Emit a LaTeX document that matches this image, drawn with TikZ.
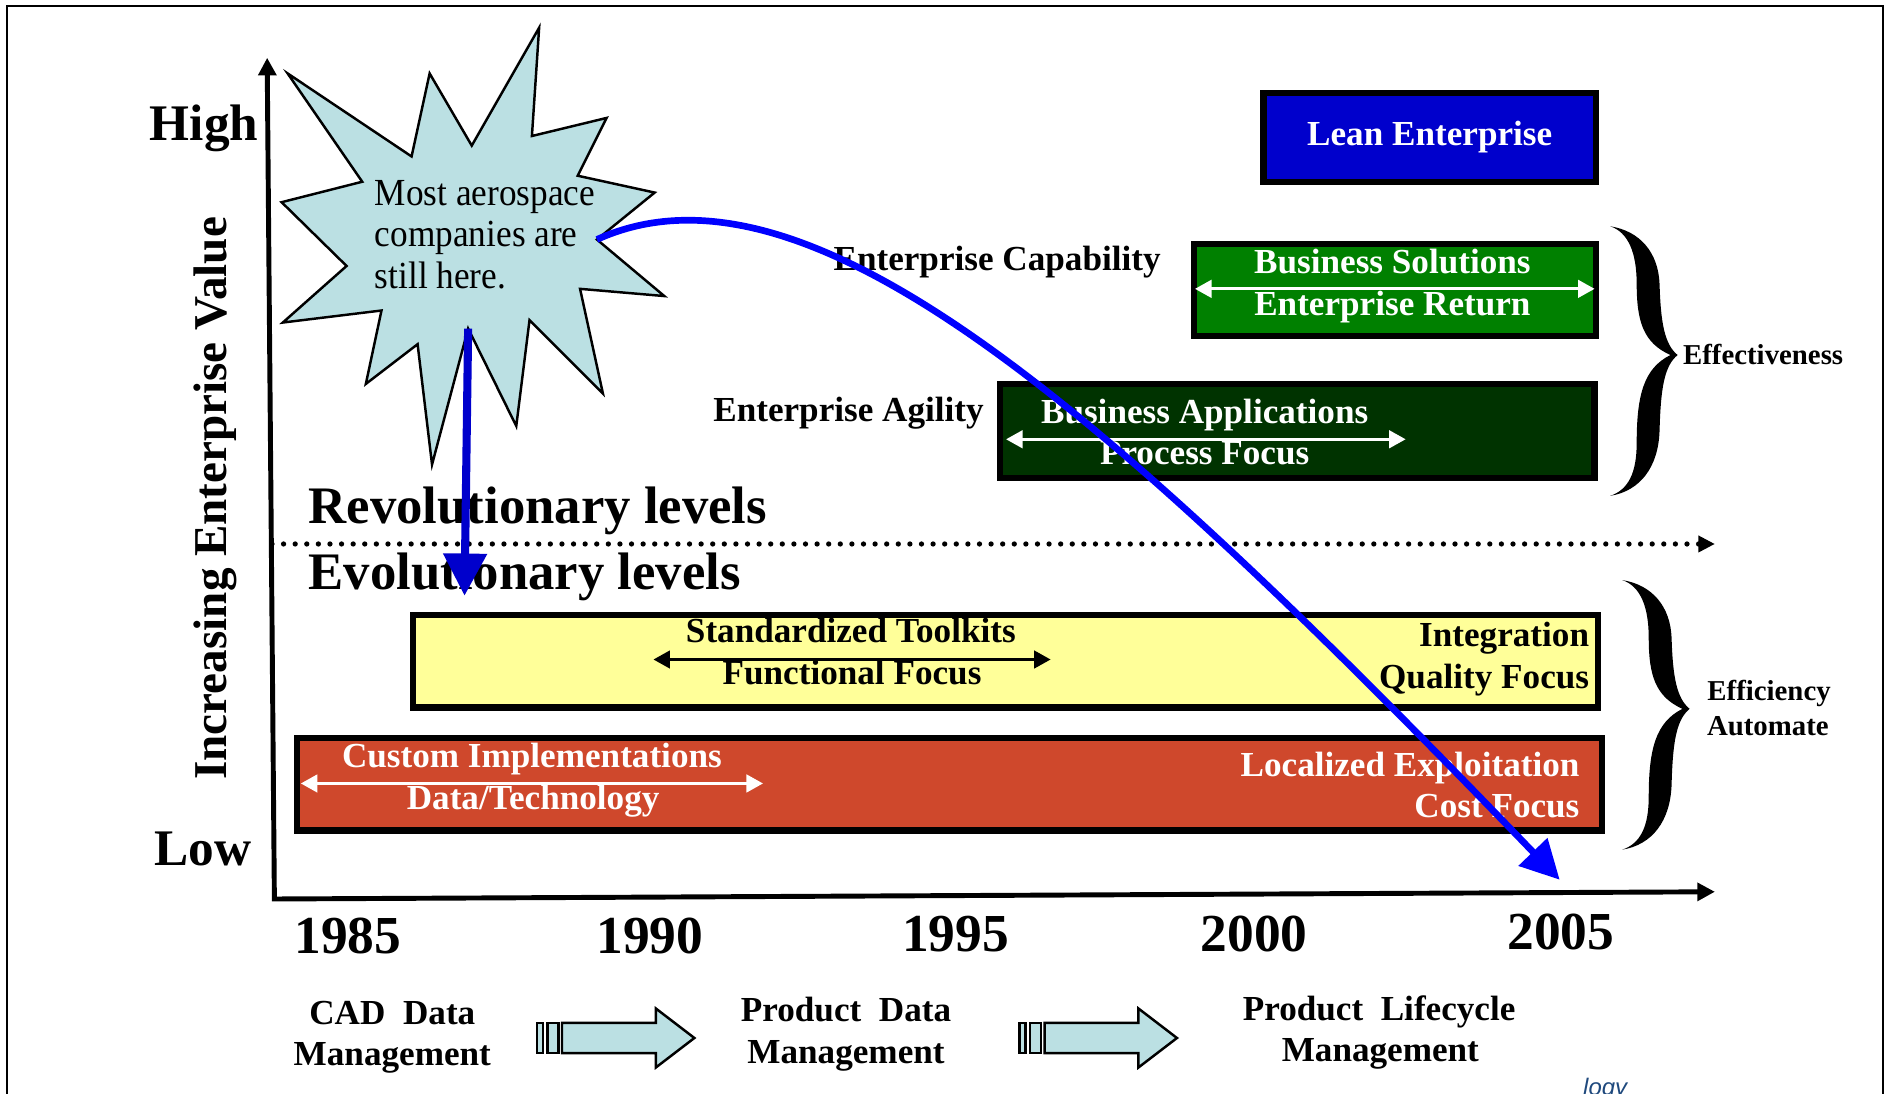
\documentclass[tikz,border=0pt]{standalone}
\usepackage{fontspec}
\setmainfont{Liberation Serif}
\newfontfamily\logofont{Liberation Sans}
\newfontfamily\burstfont[FakeStretch=0.92]{Liberation Serif}
\usepackage{xcolor}
\usetikzlibrary{arrows.meta}
\definecolor{leanblue}{RGB}{0,0,204}
\definecolor{solgreen}{RGB}{0,128,0}
\definecolor{appgreen}{RGB}{0,51,0}
\definecolor{toolyellow}{RGB}{255,255,153}
\definecolor{customred}{RGB}{207,72,44}
\definecolor{burstblue}{RGB}{187,224,227}
\definecolor{dropblue}{RGB}{0,0,204}
\definecolor{trendblue}{RGB}{0,0,255}
\definecolor{logoblue}{RGB}{31,73,125}

\begin{document}
\begin{tikzpicture}[x=0.12034mm, y=-0.12034mm,
    bigtext/.style={font=\fontsize{14.6}{17}\selectfont\bfseries, inner sep=0pt},
    leveltext/.style={font=\fontsize{15}{17}\selectfont\bfseries, inner sep=0pt, anchor=base west},
    yeartext/.style={font=\fontsize{15.2}{17}\selectfont\bfseries, inner sep=0pt, anchor=base},
    midtext/.style={font=\fontsize{10}{12}\selectfont\bfseries, inner sep=0pt},
    smalltext/.style={font=\fontsize{8.2}{10}\selectfont\bfseries, inner sep=0pt},
    bursttext/.style={font=\burstfont\fontsize{10.9}{12}\selectfont, inner sep=0pt, anchor=base west},
    levelbox/.style={draw=black, line width=1.8pt},
    spanarrow/.style={{Triangle[length=4.7pt,width=5pt]}-{Triangle[length=4.7pt,width=5pt]}, line width=0.8pt},
    axis/.style={{Triangle[length=5pt,width=5pt]}-{Triangle[length=5pt,width=5pt]}, line width=1.4pt},
    blockarrow/.style={fill=burstblue, draw=black, line width=0.7pt}]

    \useasboundingbox (0,0) rectangle (1568,909);

    % Cadre
    \draw[line width=0.6pt] (6,915) -- (6,5) -- (1565,5) -- (1565,915);

    % Axes
    \coordinate (yTop) at (222,48);
    \coordinate (origin) at (228,747);
    \coordinate (xEnd) at (1425,741);
    \draw[axis] (yTop) -- (origin) -- (xEnd);
    \node[bigtext, anchor=base west] (high) at (124,117) {High};
    \node[bigtext, anchor=base west] (low) at (128,719) {Low};
    \node[font=\fontsize{13.4}{16}\selectfont\bfseries, inner sep=0pt, rotate=90, anchor=base] (valueLabel) at (188,414) {Increasing Enterprise Value};

    % Annees
    \foreach \yr/\px/\py in {1985/289/792, 1990/540/792, 1995/794/791, 2000/1042/791, 2005/1297/789} {
        \node[yeartext] (y\yr) at (\px,\py) {\yr};
    }

    % Separation revolution / evolution
    \coordinate (sepStart) at (226,452);
    \coordinate (sepEnd) at (1425,452);
    \draw[line width=1.5pt, dash pattern=on 0pt off 3.3pt, line cap=round, -{Triangle[length=4.7pt,width=4.5pt]}] (sepStart) -- (sepEnd);
    \node[leveltext] (revLevels) at (256,435) {Revolutionary levels};
    \node[leveltext] (evoLevels) at (256,490) {Evolutionary levels};

    % Niveaux revolutionnaires
    \filldraw[levelbox, fill=leanblue] (1050,77) rectangle (1326,151);
    \node[midtext, text=white, anchor=base] (lean) at (1188,121) {Lean Enterprise};

    \filldraw[levelbox, fill=solgreen] (992,203) rectangle (1326,279);
    \node[midtext, text=white, anchor=base] (solutions) at (1157,227) {Business Solutions};
    \node[midtext, text=white, anchor=base] (eReturn) at (1157,262) {Enterprise Return};
    \coordinate (solLeft) at (993,240);
    \coordinate (solRight) at (1325,240);
    \draw[spanarrow, white] (solLeft) -- (solRight);
    \node[midtext, anchor=base east] (capability) at (965,225) {Enterprise Capability};

    \filldraw[levelbox, fill=appgreen] (831,319) rectangle (1325,397);
    \node[midtext, text=white, anchor=base] (applications) at (1001,352) {Business Applications};
    \node[midtext, text=white, anchor=base] (processFocus) at (1001,386) {Process Focus};
    \coordinate (appLeft) at (836,365);
    \coordinate (appRight) at (1168,365);
    \draw[spanarrow, white] (appLeft) -- (appRight);
    \node[midtext, anchor=base east] (agility) at (818,350) {Enterprise Agility};

    % Niveaux evolutionnaires
    \filldraw[levelbox, fill=toolyellow] (343,511) rectangle (1328,588);
    \node[midtext, anchor=base] (toolkits) at (707,534) {Standardized Toolkits};
    \node[midtext, anchor=base] (functional) at (708,569) {Functional Focus};
    \coordinate (toolLeft) at (543,548);
    \coordinate (toolRight) at (873,548);
    \draw[spanarrow, black] (toolLeft) -- (toolRight);
    \node[midtext, anchor=base east] (integration) at (1321,537) {Integration};
    \node[midtext, anchor=base east] (quality) at (1321,572) {Quality Focus};

    \filldraw[levelbox, fill=customred] (247,613) rectangle (1331,690);
    \node[midtext, text=white, anchor=base] (custom) at (442,638) {Custom Implementations};
    \node[midtext, text=white, anchor=base] (dataTech) at (443,673) {Data/Technology};
    \coordinate (customLeft) at (250,651);
    \coordinate (customRight) at (634,651);
    \draw[spanarrow, white] (customLeft) -- (customRight);
    \node[midtext, text=white, anchor=base east] (localized) at (1313,645) {Localized Exploitation};
    \node[midtext, text=white, anchor=base east] (costFocus) at (1313,679) {Cost Focus};

    % Accolades
    \foreach \bx/\by in {1338/188, 1348/482} {
        \fill[shift={(\bx,\by)}] (0,0) .. controls (25,4) and (40,22) .. (41,48)
            .. controls (42,80) and (45,98) .. (56,107)
            .. controls (45,116) and (42,134) .. (41,170)
            .. controls (40,200) and (25,220) .. (0,224)
            .. controls (15,219) and (22,205) .. (22,180)
            .. controls (22,140) and (28,118) .. (50,107)
            .. controls (28,97) and (22,80) .. (22,48)
            .. controls (22,22) and (15,5) .. (0,0) -- cycle;
    }
    \node[smalltext, anchor=base west] (effectiveness) at (1398,303) {Effectiveness};
    \node[smalltext, anchor=base] (efficiency) at (1470,582) {Efficiency};
    \node[smalltext, anchor=base] (automate) at (1469,611) {Automate};

    % Etapes en bas
    \node[midtext, anchor=base] (cadData) at (326,851) {CAD\ \ Data};
    \node[midtext, anchor=base] (cadMgmt) at (326,885) {Management};
    \node[midtext, anchor=base] (pdmData) at (703,849) {Product\ \ Data};
    \node[midtext, anchor=base] (pdmMgmt) at (703,884) {Management};
    \node[midtext, anchor=base] (plmData) at (1146,848) {Product\ \ Lifecycle};
    \node[midtext, anchor=base] (plmMgmt) at (1147,882) {Management};
    \foreach \ax in {446,847} {
        \begin{scope}[shift={(\ax,0)}]
            \filldraw[blockarrow] (0,850) rectangle (5,875);
            \filldraw[blockarrow] (9,850) rectangle (18,875);
            \filldraw[blockarrow] (21,850) -- (99,850) -- (99,838) -- (131,862.5) -- (99,887) -- (99,875) -- (21,875) -- cycle;
        \end{scope}
    }
    \node[font=\logofont\itshape\fontsize{6.8}{8}\selectfont, text=logoblue, inner sep=0pt, anchor=base west] (logo) at (1315,910) {logy};

    % Etoile
    \filldraw[fill=burstblue, draw=black, line width=0.7pt] (239,61) -- (342,130) -- (357,61) -- (392,121) -- (448,23) -- (442,113) -- (504,98) -- (480,146) -- (544,160) -- (496,199) coordinate (burstRight) -- (552,246) -- (482,240) -- (501,327) -- (440,266) -- (429,354) -- (389,273) coordinate (burstBottom) -- (359,386) -- (347,286) -- (304,319) -- (317,258) -- (235,268) -- (288,221) -- (234,168) -- (301,151) -- cycle;
    \node[bursttext] (burstA) at (311,171) {Most aerospace};
    \node[bursttext] (burstB) at (311,205) {companies are};
    \node[bursttext] (burstC) at (311,240) {still here.};

    % Fleches bleues
    \coordinate (evoTip) at (386,495);
    \draw[dropblue, line width=2.3pt, -{Triangle[length=12pt,width=12pt]}] (burstBottom) -- (evoTip);
    \coordinate (trendEnd) at (1296,731);
    \draw[trendblue, line width=1.9pt, -{Triangle[length=11pt,width=11pt]}] (burstRight) .. controls (670,120) and (920,340) .. (trendEnd);
\end{tikzpicture}
\end{document}
